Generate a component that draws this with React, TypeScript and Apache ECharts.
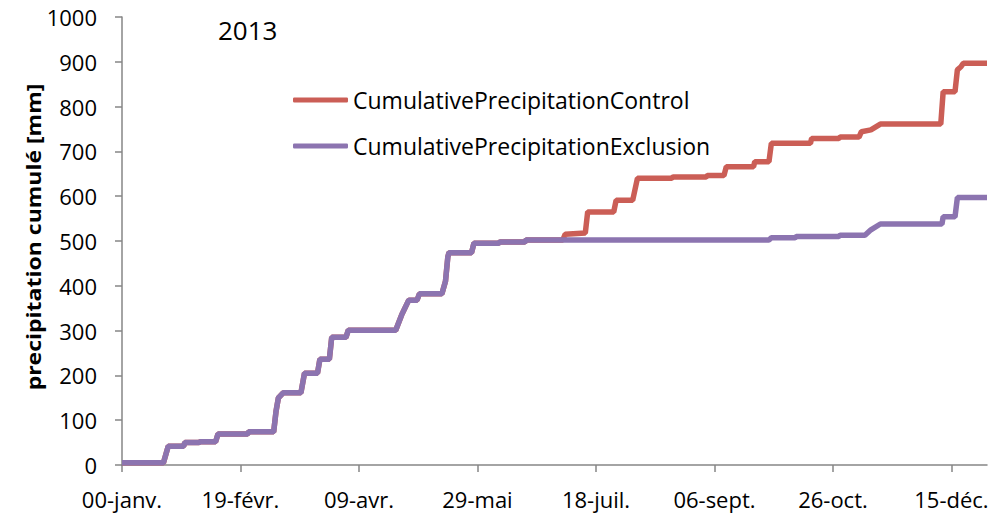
import React, { useEffect, useRef } from "react";
import * as echarts from "echarts";

const seriesNames = ["CumulativePrecipitationControl", "CumulativePrecipitationExclusion"];
const xTickValues = [0, 50, 100, 150, 200, 250, 300, 350];
const xTickLabels = ["00-janv.", "19-févr.", "09-avr.", "29-mai", "18-juil.", "06-sept.", "26-oct.", "15-déc."];
const yTitle = "precipitation cumulé [mm]";
const yearLabel = "2013";

const exclusionDays = [0, 17.5, 19.5, 26, 26.5, 32.5, 33, 39.5, 40.5, 53, 53.5, 64, 65, 66, 68, 75.5, 77, 82.5, 83.5, 87.5, 88.5, 94.5, 95.5, 115.5, 118, 121, 124.5, 125.5, 135, 136.5, 137.5, 138, 147.5, 148.5, 159, 159.5, 170, 170.5, 273, 274, 284, 284.5, 302.5, 303, 313.5, 316, 320, 346, 346.5, 351.5, 352.5, 365];
const exclusionValues = [5, 5, 42, 42, 50, 50, 52, 52, 69, 69, 74, 74, 120, 150, 161, 161, 205, 205, 236, 236, 285, 285, 301, 301, 335, 368, 368, 382, 382, 410, 465, 474, 474, 495, 495, 498, 498, 502, 502, 507, 507, 510, 510, 513, 513, 525, 538, 538, 554, 554, 597, 597];

const controlDays = [0, 17.5, 19.5, 26, 26.5, 32.5, 33, 39.5, 40.5, 53, 53.5, 64, 65, 66, 68, 75.5, 77, 82.5, 83.5, 87.5, 88.5, 94.5, 95.5, 115.5, 118, 121, 124.5, 125.5, 135, 136.5, 137.5, 138, 147.5, 148.5, 159, 159.5, 170, 170.5, 186, 187, 195.5, 196.5, 207.5, 208.5, 215.5, 217.5, 232, 232.5, 246.5, 247, 254, 255, 266.5, 267, 273, 274, 290.5, 291, 302.5, 303, 311, 312, 316, 320, 345.5, 346.5, 351.5, 352.5, 354, 355, 365];
const controlValues = [5, 5, 42, 42, 50, 50, 52, 52, 69, 69, 74, 74, 120, 150, 161, 161, 205, 205, 236, 236, 285, 285, 301, 301, 335, 368, 368, 382, 382, 410, 465, 474, 474, 495, 495, 498, 498, 502, 502, 515, 518, 565, 565, 591, 591, 640, 640, 643, 643, 646, 646, 666, 666, 677, 677, 718, 718, 729, 729, 732, 732, 744, 748, 761, 761, 833, 833, 882, 889, 897, 897];

const colors = ["#CB5E56", "#8C74B0"];
const FONT = "'Open Sans', 'Noto Sans', sans-serif";

function pairs(xs: number[], ys: number[]) {
  return xs.map((x, i) => [x, ys[i]]);
}

export default function App() {
  const ref = useRef<HTMLDivElement>(null);
  useEffect(() => {
    if (!ref.current) return;
    const chart = echarts.init(ref.current, undefined, { renderer: "svg" });
    const axisColor = "#868686";
    chart.setOption({
      animation: false,
      backgroundColor: "#ffffff",
      grid: { left: 122, right: 18, top: 17, bottom: 50 },
      legend: {
        orient: "vertical",
        left: 293,
        top: 88,
        padding: 0,
        itemWidth: 55,
        itemHeight: 5,
        itemGap: 22,
        icon: "roundRect",
        textStyle: { fontFamily: FONT, fontSize: 23, lineHeight: 24, color: "#000" },
        data: seriesNames,
      },
      graphic: [
        {
          type: "text",
          x: 218,
          y: 30,
          style: { text: yearLabel, fontFamily: FONT, fontSize: 26, fill: "#000", verticalAlign: "middle" },
        },
        {
          type: "text",
          x: 33,
          y: 237,
          rotation: Math.PI / 2,
          scaleX: 1.15,
          style: {
            text: yTitle,
            fontFamily: FONT,
            fontSize: 20,
            fontWeight: "bold",
            fill: "#000",
            align: "center",
            verticalAlign: "middle",
          },
        },
      ],
      xAxis: {
        type: "value",
        min: 0,
        max: 365,
        interval: 50,
        splitLine: { show: false },
        axisLine: { show: true, onZero: false, lineStyle: { color: axisColor, width: 1.5 } },
        axisTick: { show: true, length: 7, customValues: xTickValues, lineStyle: { color: axisColor, width: 1.5 } },
        axisLabel: {
          customValues: xTickValues,
          margin: 23,
          fontFamily: FONT,
          fontSize: 22,
          color: "#000",
          formatter: (v: number) => {
            const i = xTickValues.indexOf(v);
            return i >= 0 ? xTickLabels[i] : "";
          },
        },
      },
      yAxis: {
        type: "value",
        min: 0,
        max: 1000,
        interval: 100,
        splitLine: { show: false },
        axisLine: { show: true, lineStyle: { color: axisColor, width: 1.5 } },
        axisTick: { show: true, length: 7, lineStyle: { color: axisColor, width: 1.5 } },
        axisLabel: {
          margin: 25,
          fontFamily: FONT,
          fontSize: 22,
          color: "#000",
          formatter: (v: number) => String(v),
        },
      },
      series: [
        {
          name: seriesNames[0],
          type: "line",
          showSymbol: false,
          symbol: "none",
          data: pairs(controlDays, controlValues),
          lineStyle: { color: colors[0], width: 5.5 },
          itemStyle: { color: colors[0] },
        },
        {
          name: seriesNames[1],
          type: "line",
          showSymbol: false,
          symbol: "none",
          data: pairs(exclusionDays, exclusionValues),
          lineStyle: { color: colors[1], width: 5.5 },
          itemStyle: { color: colors[1] },
        },
      ],
    });
    return () => chart.dispose();
  }, []);
  return <div ref={ref} style={{ position: "fixed", left: 0, top: 0, width: 1005, height: 515 }} />;
}
